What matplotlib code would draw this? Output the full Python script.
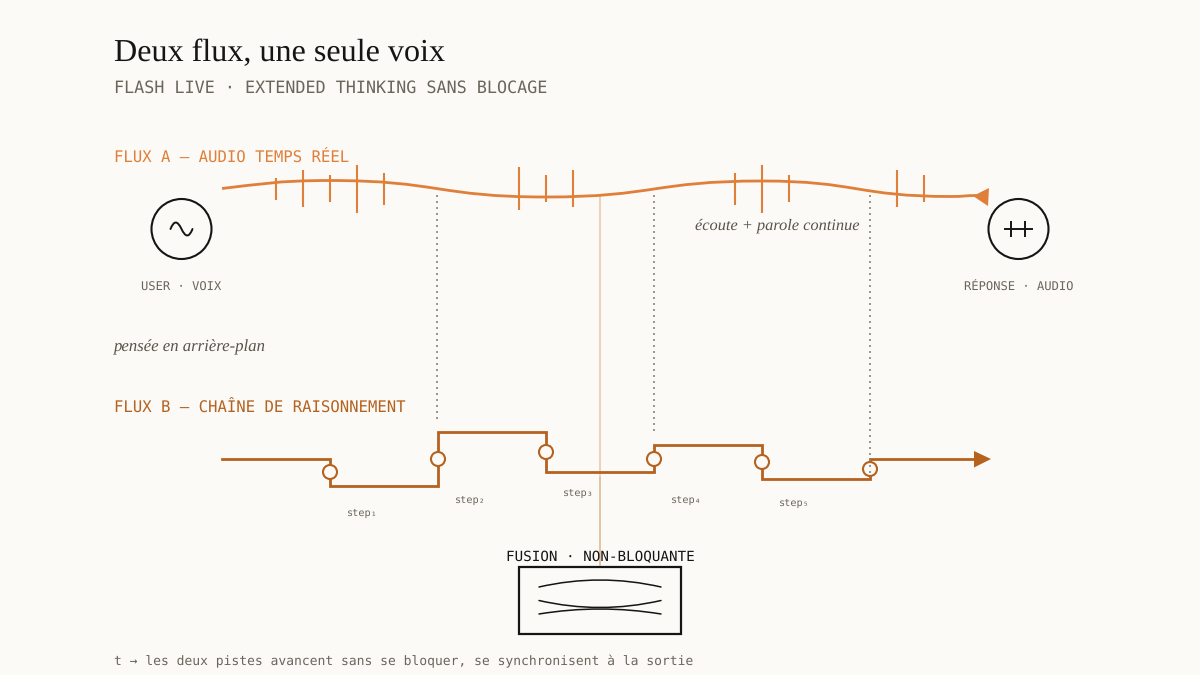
import matplotlib
matplotlib.use('Agg')
import matplotlib.pyplot as plt
from matplotlib.path import Path
from matplotlib.patches import PathPatch, Circle, Polygon, Rectangle

# avances lineaires, sinon les largeurs de texte sautent
plt.rcParams['text.hinting'] = 'no_hinting'

BG = '#FBFAF6'
ORANGE = '#DF7F39'
BROWN = '#B5621F'
GREY = '#6B655C'
DARK = '#151515'
MONO = ['DejaVu Sans Mono']
SERIF = ['Liberation Serif', 'DejaVu Serif']

# Flux A
wave_x = [222, 330, 546, 762, 951, 978]
wave_y = [188.5, 180.5, 197, 181, 196.5, 195.5]
tick_x = [276, 303, 330, 357, 384, 519, 546, 573, 735, 762, 789, 897, 924]
tick_top = [178, 170, 175, 165, 173, 167, 175, 170, 173, 165, 175, 170, 175]
tick_bottom = [200, 207, 202, 213, 205, 210, 202, 207, 205, 213, 202, 207, 202]

# Flux B
step_x = [222, 330, 438, 546, 654, 762, 870, 975]
step_y = [459, 486, 432, 472, 445, 479, 459]
node_y = [472, 459, 452, 459, 462, 469]
step_labels = ['step₁', 'step₂', 'step₃', 'step₄', 'step₅']
step_label_x = [362, 470, 578, 686, 794]
step_label_y = [512, 499, 492, 499, 502]

# liens verticaux
link_x = [437, 654, 870]
link_end = [420, 435, 475]

fig = plt.figure(figsize=(12, 6.75), dpi=100, facecolor=BG)
ax = fig.add_axes([0, 0, 1, 1])
ax.set_xlim(0, 1200)
ax.set_ylim(675, 0)
ax.axis('off')


def smooth(x, y):
    # tangentes horizontales aux sommets de la vague
    verts = [(x[0], y[0])]
    codes = [Path.MOVETO]
    for i in range(len(x) - 1):
        mid = (x[i] + x[i + 1]) / 2
        verts += [(mid, y[i]), (mid, y[i + 1]), (x[i + 1], y[i + 1])]
        codes += [Path.CURVE4] * 3
    # le depart de la courbe monte deja
    verts[1] = (258, 184.5)
    return Path(verts, codes)


def quad(ax, p0, c, p1, color=DARK, lw=1.1, z=5):
    ax.add_patch(PathPatch(Path([p0, c, p1], [Path.MOVETO, Path.CURVE3, Path.CURVE3]),
                           fill=False, edgecolor=color, lw=lw, zorder=z, capstyle='round'))


# Titres
ax.text(114, 61, 'Deux flux, une seule voix', family=SERIF, fontsize=23.1, color=DARK)
ax.text(114, 92.5, 'FLASH LIVE · EXTENDED THINKING SANS BLOCAGE', family=MONO, fontsize=12.1, color=GREY)
ax.text(114, 162.5, 'FLUX A — AUDIO TEMPS RÉEL', family=MONO, fontsize=11.29, color=ORANGE)
ax.text(114, 412.5, 'FLUX B — CHAÎNE DE RAISONNEMENT', family=MONO, fontsize=11.27, color=BROWN)

# Liens pointilles
for x, end in zip(link_x, link_end):
    ax.plot([x, x], [195, end], color='#8A857C', lw=1.2, dashes=(1.2, 2.4), zorder=6)

# Ligne centrale
ax.plot([600, 600], [196, 478], color='#E9C7A8', lw=1.1, zorder=1)
ax.plot([600, 600], [478, 565], color='#DFB48E', lw=1.1, zorder=1)

# Flux A
ax.add_patch(PathPatch(smooth(wave_x, wave_y), fill=False, edgecolor=ORANGE, lw=2.0, zorder=3))
ax.vlines(tick_x, tick_top, tick_bottom, color=ORANGE, lw=1.5, zorder=3)
ax.add_patch(Polygon([(973, 196), (989, 188), (988, 206)], closed=True, facecolor=ORANGE, edgecolor='none', zorder=3))

# Cercles entree / sortie
for cx in [181.5, 1018.5]:
    ax.add_patch(Circle((cx, 229), 30, facecolor='none', edgecolor=DARK, lw=1.5, zorder=4))
ax.add_patch(PathPatch(Path([(170.5, 229), (175.5, 216), (181.5, 229), (187.5, 242), (192.5, 229)],
                            [Path.MOVETO, Path.CURVE3, Path.CURVE3, Path.CURVE3, Path.CURVE3]),
                       fill=False, edgecolor=DARK, lw=1.4, zorder=4, capstyle='round'))
ax.plot([1005, 1032], [229, 229], color=DARK, lw=1.4, zorder=4)
ax.vlines([1011, 1025], 221, 237, color=DARK, lw=1.4, zorder=4)

ax.text(181.5, 291, 'USER · VOIX', family=MONO, fontsize=8.7, color=GREY, ha='center')
ax.text(1018.5, 291, 'RÉPONSE · AUDIO', family=MONO, fontsize=8.7, color=GREY, ha='center')
ax.text(114, 351, 'pensée en arrière-plan', family=SERIF, style='italic', fontsize=12.1, color='#59544B')
ax.text(695, 230, 'écoute + parole continue', family=SERIF, style='italic', fontsize=11.8, color='#59544B')

# Flux B
sx = [step_x[0]]
sy = [step_y[0]]
for i in range(len(step_y)):
    sx.append(step_x[i + 1])
    sy.append(step_y[i])
    if i < len(step_y) - 1:
        sx.append(step_x[i + 1])
        sy.append(step_y[i + 1])
ax.plot(sx, sy, color=BROWN, lw=2.0, solid_joinstyle='miter', zorder=3)
ax.add_patch(Polygon([(974, 451), (991, 459), (974, 467.5)], closed=True, facecolor=BROWN, edgecolor='none', zorder=3))

for x, y in zip(step_x[1:7], node_y):
    ax.add_patch(Circle((x, y), 7, facecolor=BG, edgecolor=BROWN, lw=1.5, zorder=5))

for x, y, lab in zip(step_label_x, step_label_y, step_labels):
    ax.text(x, y + 4, lab, family=MONO, fontsize=7.4, color=GREY, ha='center')

# Fusion
ax.text(600, 561, 'FUSION · NON-BLOQUANTE', family=MONO, fontsize=10.3, color=DARK, ha='center')
ax.add_patch(Rectangle((519, 567), 162, 67, facecolor='none', edgecolor=DARK, lw=1.6, zorder=5))
quad(ax, (539, 587), (600, 573), (661, 587))
quad(ax, (539, 600.5), (600, 614.5), (661, 600.5))
quad(ax, (539, 614), (600, 604), (661, 614))

ax.text(114, 665, 't → les deux pistes avancent sans se bloquer, se synchronisent à la sortie',
        family=MONO, fontsize=9.34, color=GREY)

fig.savefig('out.png', dpi=100, facecolor=BG)
